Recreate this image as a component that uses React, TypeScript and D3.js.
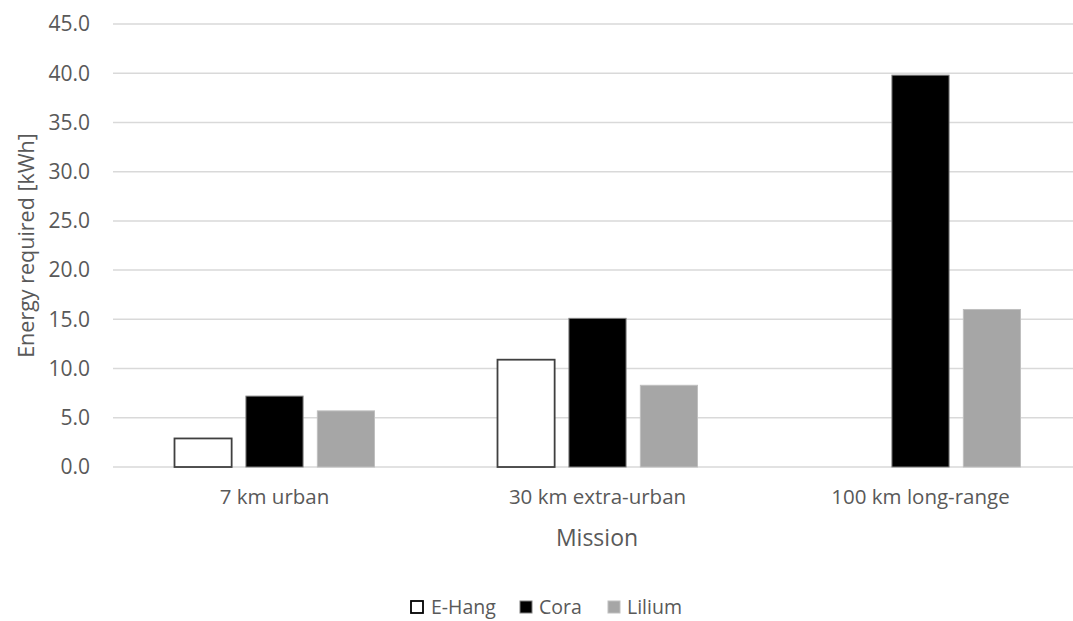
import React from "react";
import * as d3 from "d3";

const categories = ["7 km urban", "30 km extra-urban", "100 km long-range"];
const seriesNames = ["E-Hang", "Cora", "Lilium"];
const eHang: (number | null)[] = [2.9, 10.9, null];
const cora: (number | null)[] = [7.2, 15.1, 39.8];
const lilium: (number | null)[] = [5.7, 8.3, 16.0];
const yTicks = [0, 5, 10, 15, 20, 25, 30, 35, 40, 45];

const seriesValues = [eHang, cora, lilium];
const fills = ["#ffffff", "#000000", "#a6a6a6"];
const strokes = ["#404040", "#7f7f7f", "#bfbfbf"];

const W = 1073;
const H = 621;
const FONT = "'Open Sans', 'Liberation Sans', sans-serif";
const TXT = "#595959";

export default function App() {
  const x0 = d3.scaleBand<string>().domain(categories).range([113, 1082]).padding(0);
  const groupW = 200;
  const x1 = d3.scaleBand<string>().domain(seriesNames).range([0, groupW]).paddingInner(0.2).paddingOuter(0);
  const y = d3.scaleLinear().domain([0, 45]).range([467, 24]);

  return (
    <svg width={W} height={H} style={{ position: "absolute", left: 0, top: 0, background: "#fff" }}>
      <rect x={0} y={0} width={W} height={H} fill="#fff" />
      {yTicks.map((t) => (
        <g key={t}>
          <line x1={113} x2={1082} y1={y(t)} y2={y(t)} stroke="#d9d9d9" strokeWidth={1.5} />
          <text x={90} y={y(t)} dy="0.35em" textAnchor="end" fontFamily={FONT} fontSize={21} fill={TXT}>
            {t.toFixed(1)}
          </text>
        </g>
      ))}
      {categories.map((c, ci) => {
        const gx = (x0(c) as number) + (x0.bandwidth() - groupW) / 2;
        return (
          <g key={c}>
            {seriesNames.map((s, si) => {
              const v = seriesValues[si][ci];
              if (v === null) return null;
              const bx = gx + (x1(s) as number);
              return (
                <rect
                  key={s}
                  x={bx}
                  y={y(v)}
                  width={x1.bandwidth()}
                  height={y(0) - y(v)}
                  fill={fills[si]}
                  stroke={strokes[si]}
                  strokeWidth={si === 0 ? 1.8 : 1}
                />
              );
            })}
            <text
              x={(x0(c) as number) + x0.bandwidth() / 2}
              y={497}
              dy="0.35em"
              textAnchor="middle"
              fontFamily={FONT}
              fontSize={20.5}
              fill={TXT}
            >
              {c}
            </text>
          </g>
        );
      })}
      <text
        transform={`translate(26, ${(y(0) + y(45)) / 2}) rotate(-90)`}
        textAnchor="middle"
        dy="0.35em"
        fontFamily={FONT}
        fontSize={21.5}
        fill={TXT}
      >
        Energy required [kWh]
      </text>
      <text x={597} y={538} dy="0.35em" textAnchor="middle" fontFamily={FONT} fontSize={23} fill={TXT}>
        Mission
      </text>
      {(() => {
        const items = [
          { name: seriesNames[0], bx: 411, tx: 431 },
          { name: seriesNames[1], bx: 520, tx: 539 },
          { name: seriesNames[2], bx: 608, tx: 627 },
        ];
        return items.map((it, i) => (
          <g key={it.name}>
            <rect
              x={it.bx}
              y={601}
              width={12}
              height={12}
              fill={fills[i]}
              stroke={i === 0 ? "#000" : strokes[i]}
              strokeWidth={i === 0 ? 1.8 : 1}
            />
            <text x={it.tx} y={607} dy="0.35em" fontFamily={FONT} fontSize={19.5} fill={TXT}>
              {it.name}
            </text>
          </g>
        ));
      })()}
    </svg>
  );
}
